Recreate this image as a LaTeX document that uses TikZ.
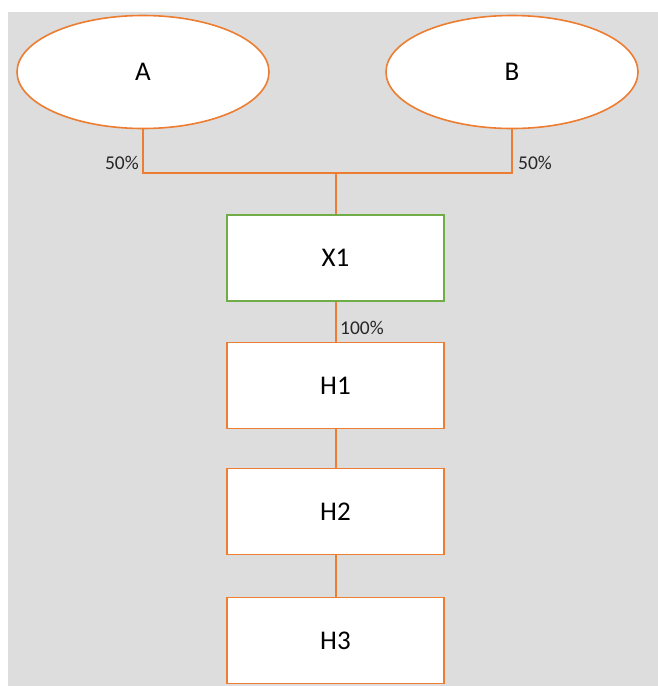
\documentclass[tikz,border=0pt]{standalone}
\usepackage{fontspec}
\setmainfont{Carlito}
\usetikzlibrary{shapes.geometric}
\definecolor{bgray}{RGB}{221,221,221}
\definecolor{lorange}{RGB}{237,125,49}
\definecolor{lgreen}{RGB}{112,173,71}
\tikzset{
  conn/.style={draw=lorange, line width=2pt},
  ell/.style={ellipse, draw=lorange, line width=1.6pt, fill=white, minimum width=252pt, minimum height=113pt, inner sep=0pt, font=\fontsize{27}{30}\selectfont},
  boxnode/.style={rectangle, draw=lorange, line width=1.6pt, fill=white, minimum width=217pt, minimum height=86pt, inner sep=0pt, font=\fontsize{27}{30}\selectfont},
  pct/.style={inner sep=0pt, font=\fontsize{19.5}{22}\selectfont, text=black!85}
}
\begin{document}
\begin{tikzpicture}[x=1pt,y=-1pt]
\useasboundingbox (0,0) rectangle (658,686);
\fill[white] (0,0) rectangle (658,686);
\fill[bgray] (8,12) rectangle (658,686);
\node[ell] (A) at (143,72) {A};
\node[ell] (B) at (512,72) {B};
\node[boxnode, draw=lgreen] (X1) at (335.5,258) {X1};
\node[boxnode] (H1) at (335.5,385.5) {H1};
\node[boxnode] (H2) at (335.5,511.5) {H2};
\node[boxnode] (H3) at (335.5,640.5) {H3};
\coordinate (jA) at (143,173);
\coordinate (jB) at (512,173);
\coordinate (jM) at (335.5,173);
\draw[conn] (A.south) -- (jA) -- (jB) -- (B.south);
\draw[conn] (jM) -- (X1.north);
\draw[conn] (X1.south) -- (H1.north);
\draw[conn] (H1.south) -- (H2.north);
\draw[conn] (H2.south) -- (H3.north);
\node[pct, anchor=east] (pA) at (139,163) {50\%};
\node[pct, anchor=west] (pB) at (518,163) {50\%};
\node[pct, anchor=west] (pX) at (340,328) {100\%};
\end{tikzpicture}
\end{document}
